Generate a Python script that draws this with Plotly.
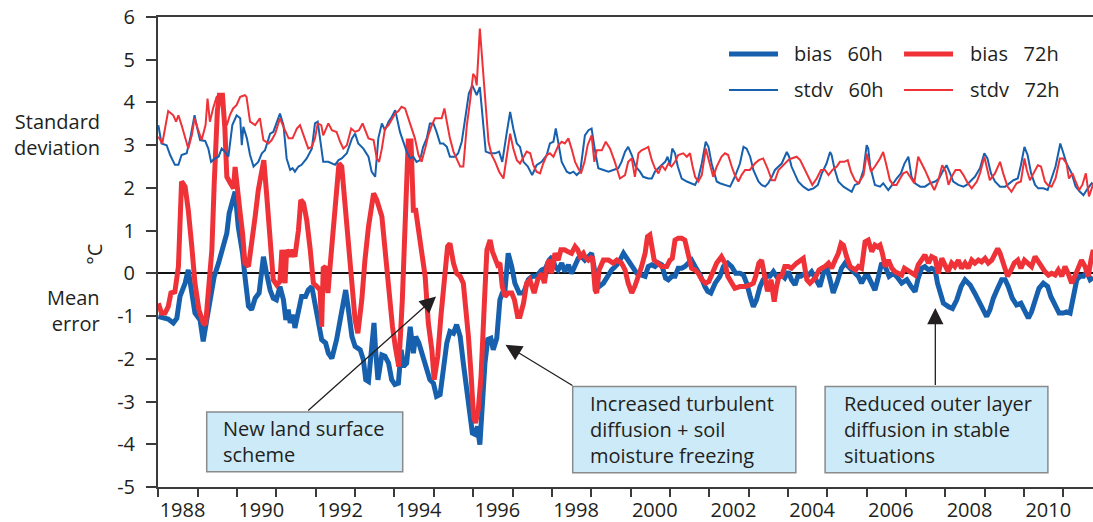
import plotly.graph_objects as go

# ---------------- data (decimal year, °C) ----------------
stdv60_x = [1987.00,1987.08,1987.21,1987.30,1987.42,1987.51,1987.59,1987.72,1987.81,1987.92,1987.97,1988.06,1988.19,1988.27,1988.34,1988.44,1988.53,1988.61,1988.69,1988.78,1988.88,1988.99,1989.08,1989.12,1989.16,1989.25,1989.33,1989.42,1989.54,1989.63,1989.71,1989.84,1989.92,1990.01,1990.09,1990.18,1990.26,1990.35,1990.41,1990.47,1990.56,1990.64,1990.77,1990.90,1990.98,1991.05,1991.11,1991.19,1991.32,1991.49,1991.58,1991.66,1991.79,1991.92,1992.00,1992.08,1992.21,1992.34,1992.42,1992.51,1992.59,1992.68,1992.76,1992.85,1992.93,1993.02,
            1993.14,1993.22,1993.31,1993.40,1993.48,1993.56,1993.65,1993.73,1993.82,1993.90,1993.99,1994.07,1994.16,1994.24,1994.33,1994.41,1994.54,1994.62,1994.71,1994.81,1994.89,1994.98,1995.09,1995.17,1995.26,1995.32,1995.43,1995.56,1995.66,1995.74,1995.85,1995.94,1996.02,1996.11,1996.19,1996.28,1996.39,1996.50,1996.61,1996.74,1996.87,1996.95,1997.04,1997.10,1997.16,1997.25,1997.38,1997.46,1997.55,1997.63,1997.72,1997.84,1997.93,1998.01,1998.10,1998.18,1998.31,1998.44,1998.56,1998.69,1998.77,1998.86,1998.94,1999.03,1999.13,1999.24,
            1999.32,1999.45,1999.54,1999.62,1999.75,1999.88,1999.94,2000.00,2000.06,2000.13,2000.20,2000.30,2000.43,2000.55,2000.64,2000.72,2000.81,2000.91,2000.98,2001.06,2001.19,2001.27,2001.40,2001.53,2001.65,2001.78,2001.87,2001.95,2002.04,2002.12,2002.25,2002.33,2002.42,2002.50,2002.59,2002.67,2002.76,2002.84,2002.97,2003.03,2003.09,2003.18,2003.26,2003.39,2003.52,2003.65,2003.76,2003.86,2003.98,2004.07,2004.11,2004.18,2004.28,2004.41,2004.53,2004.62,2004.70,2004.81,2004.92,2005.00,
            2005.04,2005.09,2005.21,2005.34,2005.42,2005.55,2005.68,2005.76,2005.87,2005.96,2006.06,2006.14,2006.23,2006.36,2006.48,2006.61,2006.74,2006.84,2006.95,2007.03,2007.12,2007.20,2007.33,2007.46,2007.54,2007.65,2007.75,2007.88,2007.99,2008.07,2008.16,2008.26,2008.39,2008.52,2008.62,2008.73,2008.84,2008.92,2009.01,2009.09,2009.18,2009.28,2009.36,2009.49,2009.60,2009.70,2009.80,2009.87,2009.92,2009.99,2010.08,2010.21,2010.31,2010.42,2010.51,2010.59,2010.72,2010.80]
stdv60_y = [3.47,3.04,3.00,2.77,2.54,2.54,2.77,2.81,3.16,3.70,3.47,3.12,3.10,2.92,2.61,2.69,2.73,2.92,2.85,2.73,3.47,3.70,3.63,3.00,3.43,3.16,2.77,2.50,2.61,2.81,2.88,3.27,3.31,3.55,3.74,3.47,2.69,2.42,2.46,2.38,2.50,2.54,2.69,2.92,3.51,3.55,3.16,2.61,2.61,2.54,2.65,2.69,2.81,3.16,3.27,3.04,2.92,2.73,2.38,2.26,3.16,3.51,3.35,3.55,3.66,3.82,
            3.31,3.08,2.85,2.69,2.73,2.61,2.65,2.96,3.16,3.51,3.51,3.31,3.04,3.04,2.96,2.73,2.73,2.81,3.08,3.70,4.21,4.40,4.17,4.36,3.47,2.85,2.81,2.81,2.85,2.61,3.27,3.78,3.39,3.04,2.96,2.61,2.50,2.30,2.53,2.61,2.77,3.04,3.08,3.39,3.08,2.61,2.38,2.34,2.38,2.30,2.38,3.23,3.35,3.39,2.85,2.46,2.42,2.38,2.42,2.46,2.61,2.85,2.96,2.77,2.50,2.38,
            2.26,2.22,2.22,2.38,2.50,2.61,2.73,2.53,2.92,2.81,2.50,2.22,2.15,2.11,2.07,2.22,2.57,3.08,2.96,2.57,2.15,2.11,2.07,2.03,2.26,2.57,2.96,2.92,2.73,2.42,2.15,2.07,2.03,2.11,2.26,2.42,2.50,2.57,2.84,2.73,2.50,2.30,2.15,2.03,1.95,1.99,2.07,2.34,2.57,2.84,2.77,2.46,2.15,2.03,1.95,1.91,2.07,2.11,2.42,3.00,
            2.92,2.50,2.07,2.03,2.11,1.95,2.11,2.22,2.34,2.57,2.73,2.26,2.11,2.03,2.03,2.11,2.15,2.22,2.42,2.53,2.34,2.15,2.07,2.03,2.07,2.18,2.26,2.46,2.81,2.69,2.34,2.15,2.03,2.03,2.11,2.18,2.22,2.53,2.96,2.77,2.34,2.07,1.99,1.99,1.95,2.22,2.50,2.81,3.04,2.84,2.57,2.34,2.03,1.91,1.83,1.95,2.11,2.05]

stdv72_x = [1987.00,1987.10,1987.25,1987.38,1987.45,1987.51,1987.59,1987.68,1987.76,1987.85,1987.92,1988.00,1988.10,1988.20,1988.25,1988.31,1988.39,1988.48,1988.57,1988.65,1988.74,1988.82,1988.90,1988.99,1989.08,1989.20,1989.24,1989.33,1989.46,1989.58,1989.67,1989.80,1989.88,1989.97,1990.09,1990.18,1990.31,1990.41,1990.52,1990.60,1990.69,1990.81,1990.90,1990.98,1991.05,1991.14,1991.19,1991.32,1991.41,1991.53,1991.62,1991.70,1991.79,1991.90,1992.00,1992.10,1992.19,1992.34,1992.47,1992.55,1992.61,1992.68,1992.76,1992.85,1992.95,1993.02,
            1993.10,1993.18,1993.27,1993.35,1993.44,1993.52,1993.61,1993.69,1993.78,1993.86,1993.95,1994.03,1994.20,1994.27,1994.33,1994.41,1994.50,1994.58,1994.67,1994.75,1994.84,1994.92,1995.00,1995.05,1995.09,1995.17,1995.23,1995.28,1995.39,1995.47,1995.56,1995.66,1995.77,1995.85,1995.94,1996.02,1996.11,1996.19,1996.28,1996.36,1996.45,1996.53,1996.61,1996.70,1996.78,1996.87,1996.95,1997.04,1997.17,1997.25,1997.33,1997.42,1997.50,1997.59,1997.67,1997.74,1997.83,1997.91,1998.01,1998.08,1998.14,1998.27,1998.37,1998.48,1998.60,1998.73,1998.86,1998.94,1999.03,1999.11,
            1999.20,1999.28,1999.37,1999.45,1999.54,1999.62,1999.71,1999.79,1999.88,1999.96,2000.04,2000.13,2000.21,2000.34,2000.43,2000.51,2000.57,2000.64,2000.72,2000.81,2000.91,2001.02,2001.10,2001.19,2001.31,2001.40,2001.48,2001.57,2001.65,2001.74,2001.82,2001.91,2002.03,2002.16,2002.26,2002.37,2002.48,2002.59,2002.67,2002.76,2002.88,2003.01,2003.09,2003.22,2003.31,2003.39,2003.52,2003.62,2003.73,2003.84,2003.94,2004.03,2004.13,2004.24,2004.32,2004.43,2004.52,2004.60,2004.70,2004.79,2004.92,2005.00,
            2005.11,2005.21,2005.34,2005.42,2005.51,2005.59,2005.68,2005.76,2005.85,2005.93,2006.02,2006.13,2006.21,2006.31,2006.40,2006.48,2006.61,2006.72,2006.82,2006.92,2007.01,2007.08,2007.16,2007.26,2007.37,2007.46,2007.57,2007.67,2007.80,2007.88,2007.99,2008.07,2008.13,2008.26,2008.39,2008.47,2008.58,2008.68,2008.81,2008.92,2009.01,2009.07,2009.15,2009.24,2009.35,2009.43,2009.53,2009.60,2009.70,2009.80,2009.91,2009.99,2010.08,2010.14,2010.23,2010.31,2010.40,2010.48,2010.57,2010.65,2010.76]
stdv72_y = [3.20,3.04,3.80,3.70,3.55,3.70,3.47,3.16,2.92,3.23,3.63,3.39,3.12,3.47,4.09,3.55,3.86,4.13,4.17,3.70,3.47,3.71,3.86,3.94,4.13,4.17,4.13,3.55,3.47,3.63,3.12,3.04,3.12,3.27,3.63,3.43,3.16,3.16,3.39,3.47,3.23,2.92,2.96,3.16,3.51,3.47,3.23,3.51,3.35,3.31,3.08,2.92,3.00,3.39,3.31,3.35,3.51,3.16,3.12,2.69,2.61,2.92,3.39,3.47,3.63,3.74,
            3.80,3.90,3.86,3.63,3.39,3.16,2.77,2.61,2.92,3.23,3.47,3.63,3.63,3.86,3.55,3.16,2.85,2.69,2.50,2.50,3.47,4.02,4.67,4.60,4.40,5.73,5.11,4.40,3.08,2.77,2.61,2.38,2.22,2.77,3.27,2.92,2.65,2.57,2.73,2.85,2.81,2.53,2.38,2.34,2.57,2.77,2.81,2.73,3.00,3.08,3.04,3.16,2.92,2.61,2.46,2.34,2.61,3.00,3.23,2.61,2.88,2.88,3.08,2.92,2.61,2.22,2.30,2.61,2.69,2.26,
            2.81,2.88,2.92,2.96,2.65,2.46,2.34,2.53,2.42,2.57,2.50,2.61,2.77,2.81,2.73,2.81,2.53,2.26,2.15,2.30,2.92,2.57,2.26,2.50,2.73,2.81,2.77,2.50,2.30,2.15,2.30,2.42,2.42,2.57,2.65,2.69,2.46,2.18,2.18,2.42,2.53,2.65,2.69,2.73,2.65,2.50,2.26,2.07,2.22,2.42,2.42,2.30,2.42,2.50,2.61,2.61,2.65,2.38,2.18,2.11,2.30,2.80,
            2.38,2.50,2.69,2.84,2.50,2.18,2.07,2.07,2.22,2.34,2.38,2.22,2.11,2.73,2.57,2.42,2.15,1.95,2.18,2.53,2.38,2.07,2.26,2.42,2.42,2.30,2.11,1.99,2.15,2.34,2.73,2.42,2.18,2.34,2.61,2.34,2.03,1.91,2.11,2.15,2.69,2.42,2.18,2.34,2.53,2.50,2.15,2.07,2.03,2.22,2.69,2.69,2.57,2.22,2.34,2.15,1.95,2.07,2.34,1.80,2.10]

bias60_x = [1987.00,1987.13,1987.25,1987.38,1987.47,1987.55,1987.68,1987.76,1987.85,1987.93,1988.06,1988.14,1988.23,1988.31,1988.42,1988.53,1988.65,1988.74,1988.80,1988.88,1988.95,1989.03,1989.14,1989.20,1989.29,1989.37,1989.46,1989.56,1989.63,1989.67,1989.75,1989.84,1989.92,1990.00,1990.09,1990.18,1990.24,1990.30,1990.35,1990.43,1990.47,1990.57,1990.64,1990.74,1990.81,1990.90,1990.98,1991.07,1991.15,1991.25,1991.32,1991.41,1991.53,1991.62,1991.70,1991.76,1991.83,1991.92,1992.00,1992.13,1992.21,1992.27,1992.34,1992.42,1992.48,1992.52,1992.58,1992.68,1992.76,1992.85,1992.93,1993.01,
            1993.10,1993.17,1993.23,1993.31,1993.40,1993.48,1993.54,1993.62,1993.73,1993.82,1993.90,1993.99,1994.07,1994.16,1994.24,1994.33,1994.41,1994.50,1994.58,1994.67,1994.75,1994.84,1994.92,1994.98,1995.05,1995.11,1995.17,1995.23,1995.30,1995.37,1995.45,1995.51,1995.60,1995.68,1995.74,1995.81,1995.89,1995.98,1996.06,1996.17,1996.28,1996.40,1996.50,1996.61,1996.74,1996.84,1996.93,1997.01,1997.08,1997.16,1997.25,1997.33,1997.42,1997.50,1997.59,1997.67,1997.76,1997.84,1997.93,1998.01,1998.10,1998.20,1998.31,1998.44,1998.52,1998.61,1998.69,1998.82,1998.90,1998.99,1999.07,1999.16,
            1999.28,1999.37,1999.45,1999.54,1999.62,1999.71,1999.79,1999.89,1999.96,2000.05,2000.13,2000.21,2000.30,2000.38,2000.47,2000.55,2000.64,2000.77,2000.89,2000.96,2001.04,2001.15,2001.27,2001.36,2001.47,2001.57,2001.67,2001.78,2001.87,2001.95,2002.04,2002.12,2002.20,2002.29,2002.37,2002.46,2002.54,2002.63,2002.71,2002.84,2002.92,2003.01,2003.09,2003.18,2003.25,2003.33,2003.43,2003.52,2003.60,2003.73,2003.81,2003.90,2003.98,2004.07,2004.15,2004.24,2004.36,2004.45,2004.58,2004.70,2004.79,2004.87,2004.96,
            2005.04,2005.13,2005.21,2005.28,2005.38,2005.47,2005.57,2005.68,2005.76,2005.89,2006.02,2006.13,2006.23,2006.31,2006.40,2006.48,2006.57,2006.65,2006.74,2006.80,2006.86,2006.95,2007.08,2007.18,2007.29,2007.40,2007.50,2007.63,2007.75,2007.88,2007.97,2008.05,2008.13,2008.22,2008.33,2008.43,2008.52,2008.60,2008.70,2008.81,2008.92,2009.02,2009.11,2009.19,2009.28,2009.38,2009.49,2009.60,2009.68,2009.79,2009.89,2010.00,2010.08,2010.17,2010.25,2010.34,2010.42,2010.51,2010.59,2010.68,2010.76]
bias60_y = [-1.01,-1.05,-1.07,-1.16,-1.05,-0.54,-0.23,0.08,-0.39,-0.93,-1.09,-1.59,-1.09,-0.62,-0.07,0.24,0.59,0.94,1.41,1.72,1.91,1.09,0.47,-0.07,-0.77,-0.85,-0.58,-0.46,0.00,0.39,0.00,-0.39,-0.58,-0.62,-0.31,-0.62,-1.09,-0.85,-1.16,-0.97,-1.28,-0.82,-0.54,-0.54,-0.39,-0.31,-0.74,-1.25,-1.55,-1.63,-1.87,-1.99,-1.55,-1.09,-0.70,-0.39,-0.85,-1.48,-1.71,-1.79,-2.02,-2.49,-2.53,-1.71,-1.16,-1.79,-2.49,-1.91,-1.94,-2.10,-2.49,-2.60,
            -2.57,-1.79,-2.18,-2.10,-1.25,-1.87,-1.48,-1.63,-1.94,-2.26,-2.49,-2.57,-2.88,-2.84,-2.33,-1.63,-1.36,-1.40,-1.20,-1.48,-2.10,-2.72,-3.19,-3.74,-3.77,-3.58,-4.01,-3.11,-2.10,-1.55,-1.52,-1.79,-1.52,-0.62,-0.46,-0.39,0.47,0.16,-0.23,-0.46,-0.46,-0.15,-0.07,-0.07,0.08,0.12,0.31,0.39,0.16,0.08,0.24,0.04,0.20,0.00,0.20,0.35,0.39,0.31,0.39,0.47,0.00,-0.31,-0.23,0.00,0.08,0.16,0.24,0.47,0.35,0.24,0.08,0.00,
            -0.04,-0.07,0.16,0.20,0.16,0.24,0.20,-0.11,-0.15,-0.07,-0.07,0.12,0.12,0.16,0.24,0.31,0.16,-0.04,-0.31,-0.42,-0.46,-0.23,-0.07,0.16,0.24,0.16,0.00,0.00,-0.04,-0.23,-0.54,-0.78,-0.62,-0.31,-0.15,-0.07,-0.07,0.04,-0.07,-0.04,-0.11,0.04,-0.15,-0.27,-0.07,-0.07,0.00,-0.04,0.04,-0.15,-0.31,0.00,0.16,-0.15,-0.46,-0.23,0.12,0.24,0.12,0.00,-0.07,-0.23,-0.07,
            -0.07,-0.23,-0.39,-0.15,0.24,0.16,-0.07,0.00,-0.07,-0.23,-0.15,-0.31,-0.43,-0.11,0.12,0.16,0.08,0.12,0.08,-0.23,-0.47,-0.70,-0.78,-0.82,-0.62,-0.31,-0.15,-0.27,-0.47,-0.70,-0.90,-1.01,-0.86,-0.58,-0.35,-0.15,-0.15,-0.31,-0.58,-0.74,-0.70,-0.86,-1.05,-0.90,-0.62,-0.35,-0.23,-0.31,-0.54,-0.78,-0.93,-0.93,-0.90,-0.93,-0.62,-0.15,-0.07,-0.07,0.04,-0.15,-0.10]

bias72_x = [1987.00,1987.08,1987.17,1987.25,1987.32,1987.42,1987.51,1987.59,1987.68,1987.76,1987.85,1987.93,1988.03,1988.14,1988.20,1988.27,1988.36,1988.42,1988.50,1988.55,1988.63,1988.69,1988.74,1988.83,1988.91,1988.95,1989.00,1989.08,1989.14,1989.20,1989.29,1989.37,1989.46,1989.54,1989.63,1989.68,1989.75,1989.84,1989.92,1990.01,1990.09,1990.14,1990.22,1990.26,1990.35,1990.39,1990.47,1990.56,1990.62,1990.69,1990.77,1990.86,1990.94,1991.03,1991.11,1991.15,1991.19,1991.25,1991.31,1991.36,1991.45,1991.53,1991.59,1991.66,1991.75,1991.83,1991.92,1992.00,1992.07,1992.17,1992.25,1992.34,1992.47,1992.55,1992.68,1992.76,1992.85,1992.95,1993.02,
            1993.11,1993.20,1993.28,1993.35,1993.42,1993.48,1993.54,1993.59,1993.68,1993.78,1993.86,1993.95,1994.01,1994.10,1994.18,1994.27,1994.35,1994.41,1994.50,1994.58,1994.67,1994.75,1994.81,1994.88,1994.95,1995.01,1995.06,1995.13,1995.20,1995.26,1995.30,1995.35,1995.43,1995.49,1995.56,1995.62,1995.68,1995.74,1995.81,1995.89,1995.98,1996.05,1996.13,1996.19,1996.28,1996.36,1996.44,1996.55,1996.64,1996.74,1996.81,1996.89,1996.95,1996.99,1997.08,1997.16,1997.23,1997.32,1997.40,1997.50,1997.59,1997.66,1997.72,1997.80,1997.84,1997.93,1998.03,1998.10,1998.14,1998.20,1998.31,1998.44,1998.56,1998.65,1998.77,1998.86,1998.94,1999.03,1999.11,
            1999.20,1999.28,1999.37,1999.43,1999.49,1999.55,1999.60,1999.69,1999.79,1999.92,2000.00,2000.06,2000.13,2000.21,2000.30,2000.38,2000.47,2000.55,2000.64,2000.72,2000.81,2000.91,2000.99,2001.08,2001.19,2001.31,2001.40,2001.47,2001.57,2001.65,2001.78,2001.91,2002.03,2002.12,2002.18,2002.26,2002.33,2002.40,2002.48,2002.57,2002.65,2002.71,2002.77,2002.84,2002.92,2003.01,2003.09,2003.22,2003.31,2003.39,2003.48,2003.56,2003.69,2003.79,2003.86,2003.94,2004.03,2004.11,2004.20,2004.28,2004.35,2004.41,2004.49,2004.58,2004.64,2004.72,2004.79,2004.87,2004.96,2005.04,
            2005.13,2005.21,2005.28,2005.34,2005.40,2005.47,2005.55,2005.64,2005.72,2005.80,2005.89,2005.96,2006.04,2006.14,2006.23,2006.31,2006.40,2006.48,2006.57,2006.65,2006.74,2006.82,2006.91,2006.99,2007.07,2007.16,2007.24,2007.33,2007.41,2007.50,2007.58,2007.67,2007.75,2007.84,2007.92,2008.01,2008.09,2008.18,2008.26,2008.33,2008.39,2008.45,2008.52,2008.58,2008.67,2008.75,2008.84,2008.92,2009.01,2009.09,2009.19,2009.28,2009.36,2009.45,2009.53,2009.62,2009.70,2009.79,2009.87,2009.96,2010.04,2010.12,2010.21,2010.29,2010.38,2010.46,2010.55,2010.63,2010.70,2010.76]
bias72_y = [-0.70,-0.93,-0.93,-0.78,-0.46,-0.43,0.16,2.15,2.03,1.48,0.63,-0.23,-0.85,-1.16,-1.20,-0.54,0.55,2.11,3.80,4.17,4.17,3.40,2.26,2.11,1.99,2.49,1.95,1.40,0.94,0.24,0.16,0.63,1.33,1.95,2.45,2.65,1.87,0.78,-0.15,-0.27,-0.19,0.55,-0.23,0.55,0.39,0.55,0.39,1.01,1.72,1.64,1.25,0.55,-0.23,-0.31,-0.39,-1.25,0.12,0.16,-0.46,0.12,1.09,1.87,2.57,2.50,1.48,0.55,-0.46,-1.09,-1.40,-0.62,0.31,1.09,1.87,1.72,1.33,0.55,-0.46,-1.25,-1.71,
            -2.18,-0.62,1.72,3.10,3.10,1.48,1.48,1.17,0.55,-0.07,-1.16,-1.79,-2.49,-1.94,-1.01,-0.07,0.63,0.70,0.24,0.00,-0.07,-0.23,-0.78,-1.48,-2.41,-3.35,-3.50,-3.19,-2.41,-1.48,-0.39,0.55,0.78,0.51,0.31,0.20,0.24,-0.31,-0.54,-0.46,-0.46,-0.62,-1.01,-1.01,-0.70,-0.23,-0.15,-0.46,-0.15,0.00,-0.23,0.24,0.31,0.00,0.47,0.31,0.55,0.55,0.51,0.47,0.63,0.55,0.39,0.47,0.39,0.31,0.39,-0.39,-0.46,0.08,0.31,0.31,0.24,0.31,0.24,0.08,-0.23,-0.46,-0.30,
            -0.07,0.16,0.47,0.86,0.90,0.51,0.31,0.24,0.16,0.16,0.31,0.35,0.78,0.82,0.82,0.78,0.39,0.12,0.08,0.00,-0.15,-0.23,-0.19,0.00,0.24,0.39,0.24,-0.07,-0.23,-0.35,-0.31,-0.31,-0.27,-0.23,-0.07,0.24,0.31,-0.07,-0.42,-0.15,-0.66,-0.31,-0.07,-0.07,0.16,0.16,0.12,0.24,0.31,0.35,-0.15,-0.23,-0.11,0.08,0.12,0.16,0.24,0.12,0.31,0.47,0.70,0.66,0.39,0.16,0.12,0.08,0.16,0.12,0.74,0.78,
            0.51,0.66,0.62,0.66,0.47,0.16,0.31,0.12,0.04,0.00,-0.04,0.12,0.08,0.00,-0.04,0.20,0.31,0.43,0.24,0.39,0.35,0.00,0.35,0.16,0.04,0.24,0.16,0.31,0.12,0.24,0.12,0.31,0.24,0.31,0.27,0.35,0.24,0.31,0.47,0.58,0.47,0.31,0.16,-0.07,0.08,0.24,0.31,0.12,0.31,0.24,0.16,0.39,0.27,0.16,0.04,-0.04,0.00,-0.04,0.08,-0.07,0.16,0.00,-0.23,-0.07,0.16,0.31,0.16,-0.07,0.31,0.55]

tick_years = list(range(1987, 2011))
label_years = [1988, 1990, 1992, 1994, 1996, 1998, 2000, 2002, 2004, 2006, 2008, 2010]
y_ticks = [-5, -4, -3, -2, -1, 0, 1, 2, 3, 4, 5, 6]
y_ticktext = ["-5", "-4", "-3", "-2", "-1", "0", "1", "2", "3", "4", "5", "6"]

series_names = ["bias\u00a0\u00a0 60h", "bias\u00a0\u00a0 72h", "stdv\u00a0\u00a0 60h", "stdv\u00a0\u00a0 72h"]
box_texts = ["New land surface<br>scheme",
             "Increased turbulent<br>diffusion + soil<br>moisture freezing",
             "Reduced outer layer<br>diffusion in stable<br>situations"]

# ---------------- styling ----------------
BLUE = "#1660ad"
RED = "#ee3238"
TXT = "#231f20"
FONT = "Open Sans"
FS = 20
BOXFILL = "#cdeaf8"
BOXLINE = "#8a8a8a"

fig = go.Figure()
fig.add_trace(go.Scatter(x=bias60_x, y=bias60_y, mode="lines", line=dict(color=BLUE, width=5), name=series_names[0], showlegend=False))
fig.add_trace(go.Scatter(x=bias72_x, y=bias72_y, mode="lines", line=dict(color=RED, width=5), name=series_names[1], showlegend=False))
fig.add_trace(go.Scatter(x=stdv60_x, y=stdv60_y, mode="lines", line=dict(color=BLUE, width=2), name=series_names[2], showlegend=False))
fig.add_trace(go.Scatter(x=stdv72_x, y=stdv72_y, mode="lines", line=dict(color=RED, width=2), name=series_names[3], showlegend=False))
# carrier for the label axis
fig.add_trace(go.Scatter(x=[], y=[], xaxis="x2", showlegend=False, hoverinfo="skip"))

XR = [1986.991, 2010.752]
fig.update_layout(
    width=1093, height=522,
    margin=dict(l=158, r=0, t=17, b=34.5, pad=0),
    paper_bgcolor="white", plot_bgcolor="white",
    font=dict(family=FONT, size=FS, color=TXT),
    showlegend=False,
    xaxis=dict(range=XR, showgrid=False, zeroline=False, showline=True, linecolor="#3a3a3a",
               linewidth=2, mirror=True, ticks="outside", ticklen=8, tickwidth=2, tickcolor="#3a3a3a",
               tickvals=tick_years, showticklabels=False),
    xaxis2=dict(range=XR, overlaying="x", anchor="y", side="bottom", showgrid=False, zeroline=False,
                showline=False, ticks="", tickvals=[yr - 0.385 for yr in label_years],
                ticktext=[str(yr) for yr in label_years], ticklabelstandoff=9,
                tickfont=dict(family=FONT, size=FS, color=TXT)),
    yaxis=dict(range=[-5, 6], showgrid=False, zeroline=True, zerolinecolor="#111111", zerolinewidth=1.5,
               showline=True, linecolor="#3a3a3a", linewidth=2, ticks="outside", ticklen=10, tickwidth=2,
               tickcolor="#3a3a3a", tickvals=y_ticks, ticktext=y_ticktext, ticklabelstandoff=7,
               tickfont=dict(family=FONT, size=FS, color=TXT)),
)

# ---- annotation boxes (data coordinates) ----
boxes = [
    dict(x0=1988.229, x1=1993.210, y0=-4.645, y1=-3.243, tx=1988.584, ty=-3.944),
    dict(x0=1997.530, x1=2003.200, y0=-4.668, y1=-2.645, tx=1997.926, ty=-3.657),
    dict(x0=2003.944, x1=2009.606, y0=-4.668, y1=-2.645, tx=2004.361, ty=-3.657),
]
for b, t in zip(boxes, box_texts):
    fig.add_shape(type="rect", xref="x", yref="y", x0=b["x0"], x1=b["x1"], y0=b["y0"], y1=b["y1"],
                  fillcolor=BOXFILL, line=dict(color=BOXLINE, width=1.5), layer="above")
    fig.add_annotation(x=b["tx"], y=b["ty"], xref="x", yref="y", text=t, showarrow=False,
                       xanchor="left", yanchor="middle", align="left",
                       font=dict(family=FONT, size=FS, color=TXT))

arrows = [
    dict(tail=(1990.770, -3.243), tip=(1994.056, -0.542)),
    dict(tail=(1997.560, -2.645), tip=(1995.822, -1.671)),
    dict(tail=(2006.745, -2.645), tip=(2006.745, -0.813)),
]
for a in arrows:
    fig.add_annotation(x=a["tip"][0], y=a["tip"][1], xref="x", yref="y",
                       ax=a["tail"][0], ay=a["tail"][1], axref="x", ayref="y",
                       text="", showarrow=True, arrowhead=2, arrowsize=2.5, arrowwidth=1.3,
                       arrowcolor=TXT, standoff=0, startstandoff=0)

# ---- custom legend ----
leg = [
    dict(x0=0.6107, x1=0.6631, y=0.9214, tx=0.6786, color=BLUE, w=5, name=series_names[0]),
    dict(x0=0.7979, x1=0.8503, y=0.9214, tx=0.8658, color=RED, w=5, name=series_names[1]),
    dict(x0=0.6107, x1=0.6631, y=0.8448, tx=0.6786, color=BLUE, w=2, name=series_names[2]),
    dict(x0=0.7979, x1=0.8503, y=0.8448, tx=0.8658, color=RED, w=2, name=series_names[3]),
]
for L in leg:
    fig.add_shape(type="line", xref="paper", yref="paper", x0=L["x0"], x1=L["x1"], y0=L["y"], y1=L["y"],
                  line=dict(color=L["color"], width=L["w"]))
    fig.add_annotation(x=L["tx"], y=L["y"], xref="paper", yref="paper", text=L["name"], showarrow=False,
                       xanchor="left", yanchor="middle", font=dict(family=FONT, size=FS, color=TXT))

# ---- side labels ----
fig.add_annotation(x=-0.0599, y=0.7492, xref="paper", yref="paper", text="Standard<br>deviation",
                   showarrow=False, xanchor="right", yanchor="middle", align="right",
                   font=dict(family=FONT, size=FS, color=TXT))
fig.add_annotation(x=-0.0599, y=0.3762, xref="paper", yref="paper", text="Mean<br>error",
                   showarrow=False, xanchor="right", yanchor="middle", align="right",
                   font=dict(family=FONT, size=FS, color=TXT))
fig.add_annotation(x=-0.0674, y=0.4963, xref="paper", yref="paper", text="°C", textangle=-90,
                   showarrow=False, xanchor="center", yanchor="middle",
                   font=dict(family=FONT, size=FS, color=TXT))

fig.write_html("out.html")
